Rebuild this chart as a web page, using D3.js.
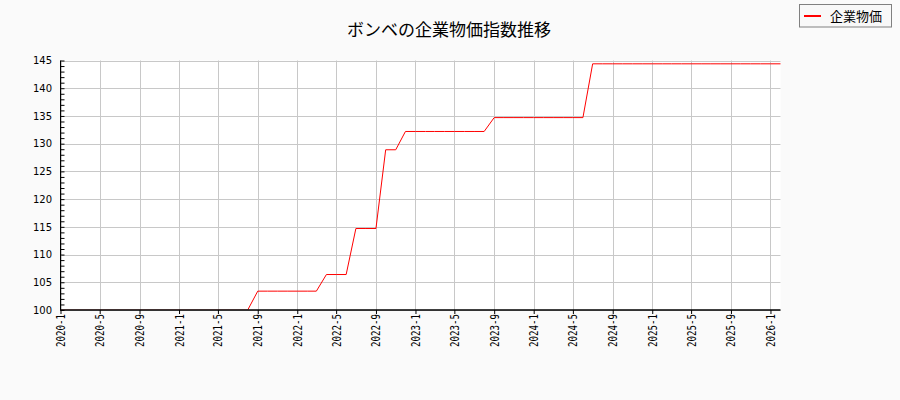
<!DOCTYPE html>
<html>
<head>
<meta charset="utf-8">
<script src="https://cdn.jsdelivr.net/npm/d3@7/dist/d3.min.js"></script>
<style>
  html, body { margin: 0; padding: 0; background: #fafafa; }
  svg { display: block; }
</style>
</head>
<body>
<svg id="chart" width="900" height="400"></svg>
<script>
// ---- data ----
const title = "ボンベの企業物価指数推移";
const seriesName = "企業物価";
const months = [
  "2020-01","2020-02","2020-03","2020-04","2020-05","2020-06","2020-07","2020-08","2020-09","2020-10","2020-11","2020-12",
  "2021-01","2021-02","2021-03","2021-04","2021-05","2021-06","2021-07","2021-08","2021-09","2021-10","2021-11","2021-12",
  "2022-01","2022-02","2022-03","2022-04","2022-05","2022-06","2022-07","2022-08","2022-09","2022-10","2022-11","2022-12",
  "2023-01","2023-02","2023-03","2023-04","2023-05","2023-06","2023-07","2023-08","2023-09","2023-10","2023-11","2023-12",
  "2024-01","2024-02","2024-03","2024-04","2024-05","2024-06","2024-07","2024-08","2024-09","2024-10","2024-11","2024-12",
  "2025-01","2025-02","2025-03","2025-04","2025-05","2025-06","2025-07","2025-08","2025-09","2025-10","2025-11","2025-12",
  "2026-01","2026-02"
];
const values = [
  100,100,100,100,100,100,100,100,100,100,100,100,
  100,100,100,100,100,100,100,100,103.4,103.4,103.4,103.4,
  103.4,103.4,103.4,106.4,106.4,106.4,114.7,114.7,114.7,128.9,128.9,132.2,
  132.2,132.2,132.2,132.2,132.2,132.2,132.2,132.2,134.7,134.7,134.7,134.7,
  134.7,134.7,134.7,134.7,134.7,134.7,144.4,144.4,144.4,144.4,144.4,144.4,
  144.4,144.4,144.4,144.4,144.4,144.4,144.4,144.4,144.4,144.4,144.4,144.4,
  144.4,144.4
];
const xTickLabels = [
  "2020-1","2020-5","2020-9","2021-1","2021-5","2021-9","2022-1","2022-5","2022-9",
  "2023-1","2023-5","2023-9","2024-1","2024-5","2024-9","2025-1","2025-5","2025-9","2026-1"
];
const yTicks = [100,105,110,115,120,125,130,135,140,145];
const yDomain = [100, 145];

// ---- layout ----
const svg = d3.select("#chart");
const pL = 60.5, pR = 780.5, pT = 60.5, pB = 310;
const parseMonth = d3.timeParse("%Y-%m");
const parseTick = d3.timeParse("%Y-%-m");
const data = months.map((m, i) => ({ date: parseMonth(m), value: values[i] }));

const x = d3.scaleTime()
  .domain(d3.extent(data, d => d.date))
  .range([pL, pR]);
const y = d3.scaleLinear().domain(yDomain).range([pB, pT]);

svg.append("rect").attr("x", 0).attr("y", 0).attr("width", 900).attr("height", 400).attr("fill", "#fafafa");
svg.append("rect").attr("x", pL).attr("y", pT).attr("width", pR - pL).attr("height", pB - pT).attr("fill", "#ffffff");

const tickDates = xTickLabels.map(parseTick);

// grid
const grid = svg.append("g").attr("stroke", "#c8c8c8").attr("stroke-width", 1);
grid.selectAll("line.v").data(tickDates).enter().append("line")
  .attr("x1", d => Math.round(x(d)) + 0.5).attr("x2", d => Math.round(x(d)) + 0.5)
  .attr("y1", pT).attr("y2", pB);
grid.selectAll("line.h").data(yTicks).enter().append("line")
  .attr("x1", pL).attr("x2", pR)
  .attr("y1", d => Math.round(y(d)) + 0.5).attr("y2", d => Math.round(y(d)) + 0.5);

// line
svg.append("clipPath").attr("id", "clip").append("rect")
  .attr("x", pL).attr("y", pT - 1).attr("width", pR - pL + 1).attr("height", pB - pT + 0.4);
svg.append("path")
  .datum(data)
  .attr("clip-path", "url(#clip)")
  .attr("fill", "none")
  .attr("stroke", "#ff0000")
  .attr("stroke-width", 1)
  .attr("d", d3.line().x(d => x(d.date)).y(d => y(d.value)));

// y axis (ticks inward)
const yAxis = d3.axisRight(y)
  .tickValues(d3.range(yDomain[0], yDomain[1] + 1, 1))
  .tickSize(4)
  .tickFormat("");
const yg = svg.append("g").attr("transform", `translate(${pL},0)`).call(yAxis);
yg.select(".domain").remove();
yg.selectAll(".tick line").attr("stroke", "#000");
svg.append("line").attr("x1", pL).attr("x2", pL).attr("y1", pT).attr("y2", pB + 0.5)
  .attr("stroke", "#000").attr("stroke-width", 1);
svg.append("g").selectAll("text").data(yTicks).enter().append("text")
  .attr("x", 52).attr("y", d => y(d) + 3.8)
  .attr("text-anchor", "end")
  .attr("font-family", "DejaVu Sans")
  .attr("font-size", 10)
  .attr("fill", "#000")
  .text(d => d);

// x axis
const xAxis = d3.axisBottom(x).tickValues(tickDates).tickSize(4).tickFormat("");
const xg = svg.append("g").attr("transform", `translate(0,${pB})`).call(xAxis);
xg.select(".domain").remove();
xg.selectAll(".tick line").attr("stroke", "#000");
svg.append("line").attr("x1", pL).attr("x2", pR).attr("y1", pB).attr("y2", pB)
  .attr("stroke", "#000").attr("stroke-width", 1.4);
svg.append("g").selectAll("text").data(tickDates).enter().append("text")
  .attr("transform", d => `translate(${x(d) + 0.5},314) rotate(-90)`)
  .attr("text-anchor", "end")
  .attr("dominant-baseline", "central")
  .attr("font-family", "DejaVu Sans Mono")
  .attr("font-size", 12)
  .attr("textLength", 33)
  .attr("lengthAdjust", "spacingAndGlyphs")
  .attr("fill", "#000")
  .text((d, i) => xTickLabels[i]);

// title
svg.append("text")
  .attr("x", 449).attr("y", 35.5)
  .attr("text-anchor", "middle")
  .attr("font-family", "Noto Sans CJK JP")
  .attr("font-size", 17)
  .attr("fill", "#000")
  .text(title);

// legend
const lg = svg.append("g");
lg.append("rect").attr("x", 799.5).attr("y", 4.5).attr("width", 92).attr("height", 22.5)
  .attr("fill", "#f8f8f8").attr("stroke", "#808080").attr("stroke-width", 1);
lg.append("line").attr("x1", 804).attr("x2", 821).attr("y1", 16).attr("y2", 16)
  .attr("stroke", "#ff0000").attr("stroke-width", 2);
lg.append("text").attr("x", 830).attr("y", 20.5)
  .attr("font-family", "Noto Sans CJK JP")
  .attr("font-size", 13)
  .attr("fill", "#000")
  .text(seriesName);
</script>
</body>
</html>
